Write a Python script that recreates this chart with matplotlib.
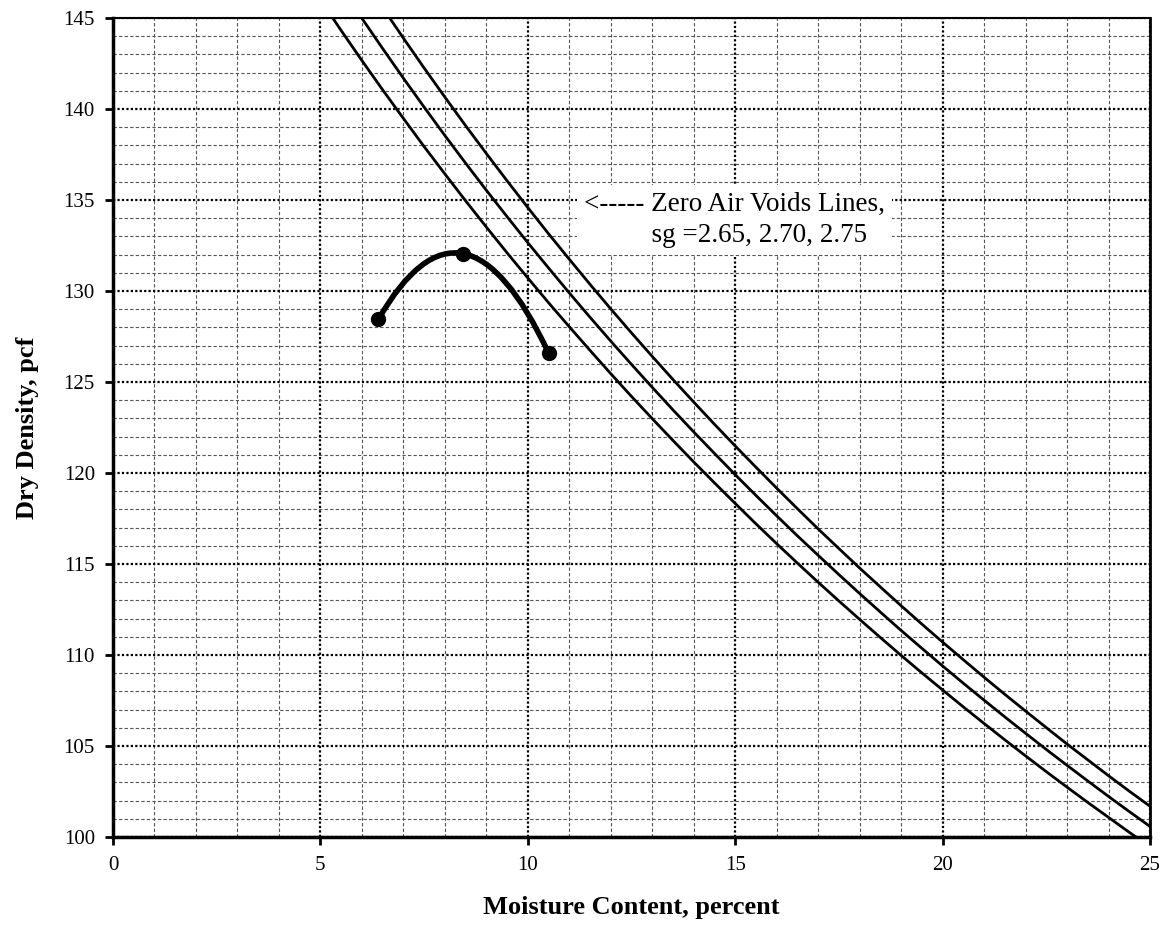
import matplotlib.pyplot as plt
from matplotlib.path import Path
import matplotlib.patches as patches

# zero air voids lines (moisture %, dry density pcf)
zav_moisture = [5, 5.5, 6, 6.5, 7, 7.5, 8, 8.5, 9, 9.5, 10, 10.5, 11, 11.5, 12, 12.5,
                13, 13.5, 14, 14.5, 15, 15.5, 16, 16.5, 17, 17.5, 18, 18.5, 19, 19.5,
                20, 20.5, 21, 21.5, 22, 22.5, 23, 23.5, 24, 24.5, 25]
zav_265 = [146.01, 144.32, 142.67, 141.06, 139.49, 137.94, 136.44, 134.96, 133.52, 132.10,
           130.72, 129.36, 128.04, 126.74, 125.46, 124.21, 122.99, 121.79, 120.61, 119.46,
           118.33, 117.21, 116.12, 115.05, 114.00, 112.97, 111.96, 110.96, 109.98, 109.02,
           108.08, 107.15, 106.24, 105.34, 104.46, 103.59, 102.74, 101.90, 101.08, 100.26, 99.47]
zav_270 = [148.44, 146.70, 144.99, 143.33, 141.70, 140.11, 138.55, 137.03, 135.54, 134.09,
           132.66, 131.27, 129.90, 128.56, 127.25, 125.97, 124.71, 123.47, 122.26, 121.08,
           119.91, 118.77, 117.65, 116.55, 115.48, 114.42, 113.38, 112.36, 111.35, 110.37,
           109.40, 108.45, 107.52, 106.60, 105.70, 104.81, 103.94, 103.08, 102.23, 101.40, 100.58]
zav_275 = [150.86, 149.06, 147.30, 145.58, 143.90, 142.26, 140.66, 139.09, 137.56, 136.06,
           134.59, 133.15, 131.75, 130.37, 129.02, 127.70, 126.41, 125.14, 123.90, 122.68,
           121.49, 120.32, 119.17, 118.04, 116.93, 115.85, 114.78, 113.74, 112.71, 111.70,
           110.71, 109.74, 108.78, 107.84, 106.92, 106.01, 105.11, 104.24, 103.37, 102.52, 101.69]

# proctor test points
test_moisture = [6.4, 8.45, 10.5]
test_density = [128.45, 132.05, 126.6]

plt.rcParams['font.family'] = ['Liberation Serif', 'DejaVu Serif']

fig = plt.figure(figsize=(11.68, 9.25), dpi=100)
ax = fig.add_axes([0.0967, 0.0951, 0.8879, 0.8854])

for dens in (zav_265, zav_270, zav_275):
    ax.plot(zav_moisture, dens, color='black', lw=2, zorder=3)


def smooth_path(xs, ys):
    # smoothed line through the points, drawn as quadratic beziers
    n = len(xs)
    slopes = []
    for i in range(n):
        if 0 < i < n - 1:
            slopes.append((ys[i + 1] - ys[i - 1]) / (xs[i + 1] - xs[i - 1]))
        else:
            slopes.append(None)
    slopes[0] = 2 * (ys[1] - ys[0]) / (xs[1] - xs[0]) - slopes[1]
    slopes[-1] = 2 * (ys[-1] - ys[-2]) / (xs[-1] - xs[-2]) - slopes[-2]
    verts = [(xs[0], ys[0])]
    codes = [Path.MOVETO]
    for i in range(n - 1):
        dx = xs[i + 1] - xs[i]
        c1 = (xs[i] + dx / 2, ys[i] + slopes[i] * dx / 2)
        c2 = (xs[i + 1] - dx / 2, ys[i + 1] - slopes[i + 1] * dx / 2)
        ctrl = ((c1[0] + c2[0]) / 2, (c1[1] + c2[1]) / 2)
        verts += [ctrl, (xs[i + 1], ys[i + 1])]
        codes += [Path.CURVE3, Path.CURVE3]
    return Path(verts, codes)


ax.add_patch(patches.PathPatch(smooth_path(test_moisture, test_density), fill=False,
                               lw=4, edgecolor='black', capstyle='round', zorder=4))
ax.plot(test_moisture, test_density, 'o', color='black', ms=10, zorder=5)

ax.text(11.35, 133.9, "<----- Zero Air Voids Lines,\n          sg =2.65, 2.70, 2.75",
        fontsize=19.5, ha='left', va='center', linespacing=1.3, zorder=6,
        bbox=dict(facecolor='white', edgecolor='none', pad=5))

ax.set_xlim(0, 25)
ax.set_ylim(100, 145)
ax.set_xticks(range(0, 26, 5))
ax.set_yticks(range(100, 146, 5))
ax.set_xticks(range(0, 26), minor=True)
ax.set_yticks(range(100, 146), minor=True)

ax.grid(which='minor', color='#555555', linestyle=(0, (3, 2)), lw=0.8)
ax.grid(which='major', color='black', linestyle=(0, (1, 1)), lw=1.6)
ax.set_axisbelow(True)

ax.tick_params(which='major', direction='out', length=6, width=2, labelsize=15, pad=7)
ax.tick_params(which='minor', length=0)
ax.tick_params(axis='x', pad=8)

for side in ('left', 'bottom'):
    ax.spines[side].set_linewidth(2.5)
ax.spines['right'].set_linewidth(2)
ax.spines['top'].set_linewidth(1.5)

ax.set_xlabel('Moisture Content, percent', fontsize=19, fontweight='bold', labelpad=15)
ax.set_ylabel('Dry Density, pcf', fontsize=19, fontweight='bold', labelpad=18)

plt.savefig('out.png', dpi=100)
